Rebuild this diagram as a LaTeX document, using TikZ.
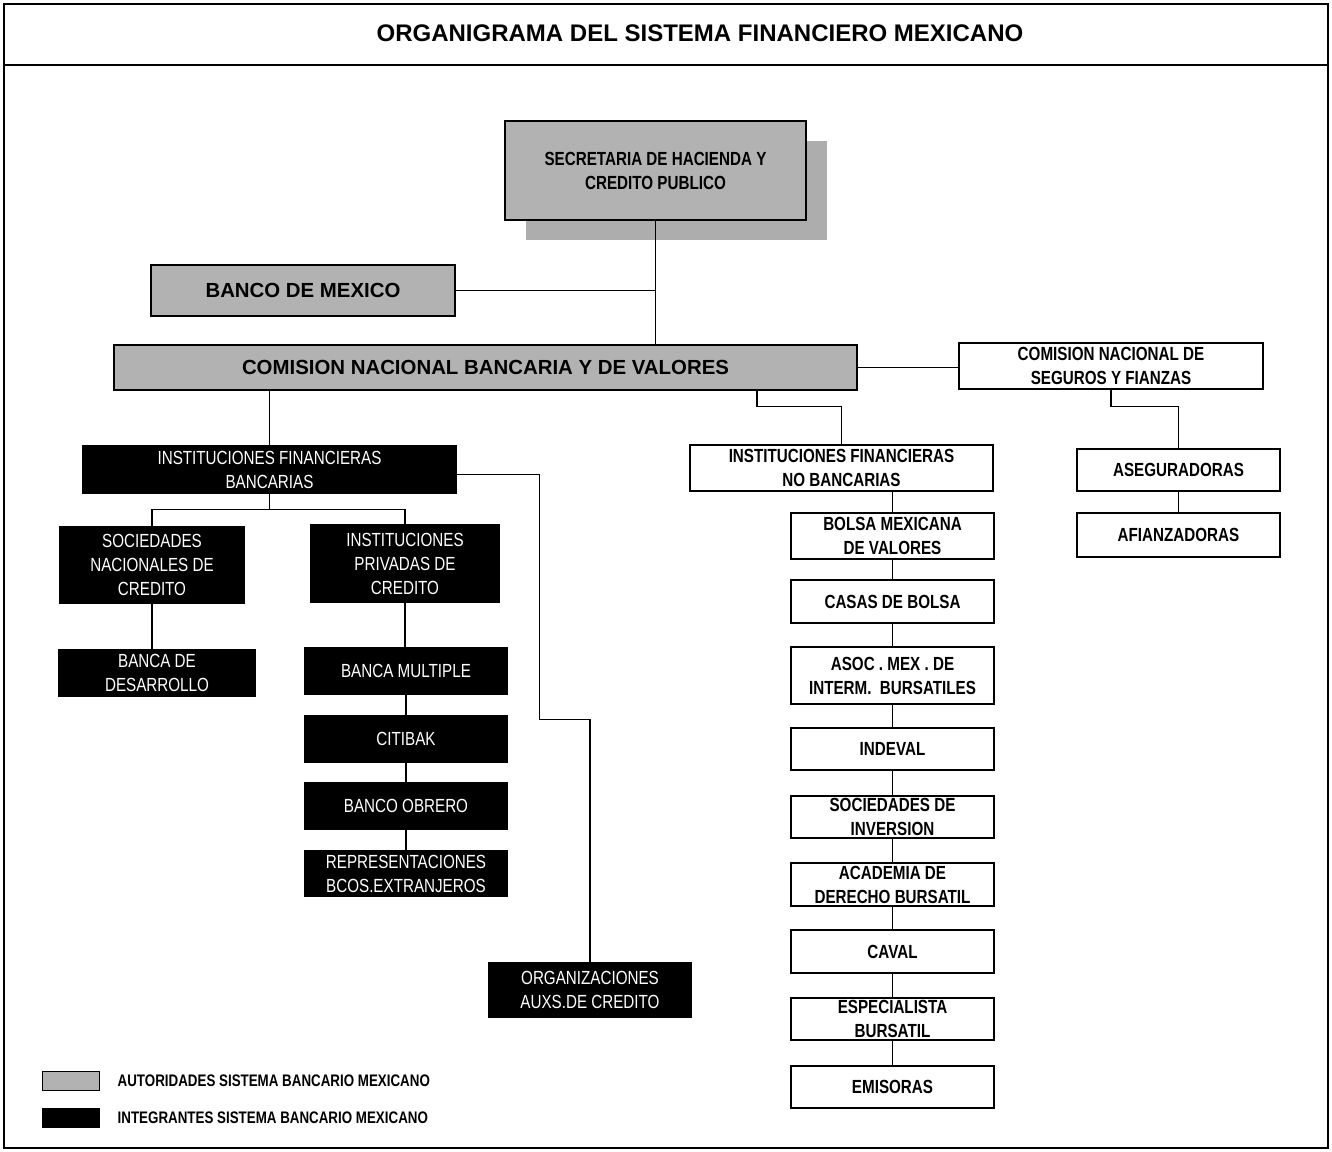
\documentclass[tikz,border=0pt]{standalone}
\usepackage{fontspec}
\setmainfont{Liberation Sans}
\newfontfamily\narrowfont[FakeStretch=0.8]{Liberation Sans}
\usetikzlibrary{positioning,shadows}
\tikzset{
  box/.style={draw,line width=1.3pt,inner sep=0pt,align=center,
    font=\narrowfont\bfseries\fontsize{19}{24}\selectfont},
  auth/.style={box,fill=black!30},
  memb/.style={box,fill=black,text=white,font=\narrowfont\fontsize{19}{24}\selectfont},
  inst/.style={box,fill=white},
  widetext/.style={font=\bfseries\fontsize{20.4}{24}\selectfont},
  legtext/.style={inner sep=0pt,font=\narrowfont\bfseries\fontsize{16.7}{20}\selectfont},
  conn/.style={line width=1.2pt}
}
\begin{document}
\begin{tikzpicture}[x=1pt,y=-1pt]
  \useasboundingbox (0,0) rectangle (1332,1151);
  \draw[line width=1.3pt] (4,4) rectangle (1328,1148) (4,65) -- (1328,65);
  \node[font=\bfseries\fontsize{24}{28}\selectfont] (title) at (700,33) {ORGANIGRAMA DEL SISTEMA FINANCIERO MEXICANO};

  \node[auth,minimum width=301pt,minimum height=99pt,
    drop shadow={shadow xshift=21pt,shadow yshift=-20pt,fill=black!32,opacity=1}]
    (shcp) at (655.5,170.5) {SECRETARIA DE HACIENDA Y\\CREDITO PUBLICO};
  \node[auth,widetext,minimum width=304pt,minimum height=51pt] (bdm) at (303,290.5) {BANCO DE MEXICO};
  \node[auth,widetext,minimum width=743pt,minimum height=45pt] (cnbv) at (485.5,367.5) {COMISION NACIONAL BANCARIA Y DE VALORES};
  \node[inst,minimum width=304pt,minimum height=46pt] (cnsf) at (1111,366) {COMISION NACIONAL DE\\SEGUROS Y FIANZAS};

  \node[memb,minimum width=373pt,minimum height=47pt] (ifb) at (269.5,469.5) {INSTITUCIONES FINANCIERAS\\BANCARIAS};
  \node[memb,minimum width=184pt,minimum height=76pt] (snc) at (152,565) {SOCIEDADES\\NACIONALES DE\\CREDITO};
  \node[memb,minimum width=188pt,minimum height=77pt] (ipc) at (405,563.5) {INSTITUCIONES\\PRIVADAS DE\\CREDITO};
  \node[memb,minimum width=196pt,minimum height=46pt] (bd) at (157,673) {BANCA DE\\DESARROLLO};
  \foreach \n/\y/\t in {bm/671/{BANCA MULTIPLE},citi/739/CITIBAK,bo/806/{BANCO OBRERO},
      rep/873.5/{REPRESENTACIONES\\BCOS.EXTRANJEROS}}
    \node[memb,minimum width=202pt,minimum height=46pt] (\n) at (406,\y) {\t};
  \node[memb,minimum width=202pt,minimum height=54pt] (org) at (590,990) {ORGANIZACIONES\\AUXS.DE CREDITO};

  \node[inst,minimum width=303pt,minimum height=46pt] (ifnb) at (841.5,468) {INSTITUCIONES FINANCIERAS\\NO BANCARIAS};
  \foreach \n/\y/\h/\t in {bmv/536/46/{BOLSA MEXICANA\\DE VALORES},cb/601.5/43/{CASAS DE BOLSA},
      amib/675.5/57/{ASOC . MEX . DE\\INTERM.\ \ BURSATILES},ind/749/42/INDEVAL,
      si/817/42/{SOCIEDADES DE\\INVERSION},adb/884.5/43/{ACADEMIA DE\\DERECHO BURSATIL},
      cav/951.5/43/CAVAL,esp/1019/42/{ESPECIALISTA\\BURSATIL},emi/1087/42/EMISORAS}
    \node[inst,minimum width=203pt,minimum height=\h pt] (\n) at (892.5,\y) {\t};
  \node[inst,minimum width=203pt,minimum height=42pt] (aseg) at (1178.5,470) {ASEGURADORAS};
  \node[inst,minimum width=203pt,minimum height=44pt] (afi) at (1178.5,535) {AFIANZADORAS};

  \draw[conn] (shcp.south) -- (shcp.south |- cnbv.north) (bdm.east) -- (bdm.east -| shcp.south);
  \draw[conn] (cnbv.east) -- (cnbv.east -| cnsf.west);
  \draw[conn] (ifb.north |- cnbv.south) -- (ifb.north);
  \draw[conn] ([xshift=271.5pt]cnbv.south) -- ++(0,16) -| (ifnb.north);
  \draw[conn] (cnsf.south) -- ++(0,17) -| (aseg.north) (aseg.south) -- (afi.north);
  \draw[conn] (ifb.south) -- ++(0,16) coordinate (ifbj) (snc.north) |- (ifbj) -| (ipc.north);
  \draw[conn] ([yshift=-5pt]ifb.east) -- ++(83,0) |- ([yshift=243pt]org.north) -- (org.north);
  \draw[conn] (snc.south) -- (snc.south |- bd.north) (ipc.south) -- (ipc.south |- bm.north);
  \foreach \a/\b in {bm/citi,citi/bo,bo/rep} \draw[conn] (\a.south) -- (\b.north);
  \draw[conn] (bmv.north |- ifnb.south) -- (bmv.north);
  \foreach \a/\b in {bmv/cb,cb/amib,amib/ind,ind/si,si/adb,adb/cav,cav/esp,esp/emi}
    \draw[conn] (\a.south) -- (\b.north);

  \node[auth,line width=1pt,minimum width=57pt,minimum height=19pt] (lgA) at (70.5,1080.5) {};
  \node[memb,line width=1pt,minimum width=57pt,minimum height=19pt] (lgB) at (70.5,1117.5) {};
  \node[right=18pt of lgA,legtext] (lgAt) {AUTORIDADES SISTEMA BANCARIO MEXICANO};
  \node[right=18pt of lgB,legtext] (lgBt) {INTEGRANTES SISTEMA BANCARIO MEXICANO};
\end{tikzpicture}
\end{document}
